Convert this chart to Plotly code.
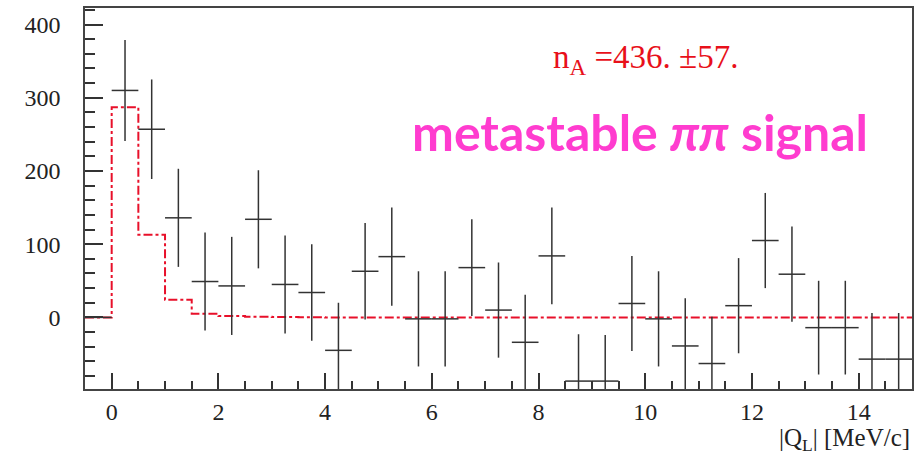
import plotly.graph_objects as go

# Data: bin centers, counts and errors (bin width 0.5 MeV/c)
bin_centers = [0.25, 0.75, 1.25, 1.75, 2.25, 2.75, 3.25, 3.75, 4.25, 4.75,
               5.25, 5.75, 6.25, 6.75, 7.25, 7.75, 8.25, 8.75, 9.25, 9.75,
               10.25, 10.75, 11.25, 11.75, 12.25, 12.75, 13.25, 13.75, 14.25, 14.75]
counts = [310, 257, 136, 49, 43, 134, 45, 34, -45, 63,
          83, -2, -2, 68, 10, -34, 84, -87, -87, 19,
          -2, -39, -63, 16, 105, 59, -14, -14, -57, -57]
errors = [69, 68, 67, 67, 67, 67, 67, 66, 65, 66,
          67, 65, 65, 66, 65, 65, 66, 64, 63, 65,
          65, 65, 64, 65, 65, 65, 64, 64, 63, 63]
half_width = [0.25] * len(bin_centers)

# Fit (signal) histogram, bin edges and heights
fit_edges = [-0.5, 0.0, 0.5, 1.0, 1.5, 2.0, 2.5, 3.0, 3.5, 4.0, 15.0]
fit_vals = [0, 287, 113, 24, 5, 2, 1, 0.5, 0.2, 0, 0]

x_ticks = [0, 2, 4, 6, 8, 10, 12, 14]
y_ticks = [0, 100, 200, 300, 400]

fig = go.Figure()

fig.add_trace(go.Scatter(
    x=fit_edges, y=fit_vals, mode="lines", line_shape="hv",
    line=dict(color="#e8102a", width=2, dash="dashdot"),
    hoverinfo="skip", showlegend=False,
))

fig.add_trace(go.Scatter(
    x=bin_centers, y=counts, mode="markers",
    marker=dict(size=0.1, color="#333333"),
    error_x=dict(type="data", array=half_width, width=0, thickness=1.5, color="#333333"),
    error_y=dict(type="data", array=errors, width=0, thickness=1.5, color="#333333"),
    showlegend=False,
))

# short baseline segment left of zero
fig.add_trace(go.Scatter(
    x=[-0.5, 0.0], y=[0, 0], mode="lines",
    line=dict(color="#333333", width=1.5), showlegend=False, hoverinfo="skip",
))

serif = "Liberation Serif, Times New Roman, serif"

fig.update_xaxes(
    range=[-0.5, 15.0], tickvals=x_ticks, ticks="inside", ticklen=16, tickwidth=1.5,
    tickcolor="#333333", showline=True, linecolor="#444444", linewidth=1.5, mirror=True,
    showgrid=False, zeroline=False,
    tickfont=dict(family=serif, size=24, color="#222222"),
    minor=dict(dtick=0.5, tick0=0, ticks="inside", ticklen=8, tickcolor="#333333", tickwidth=1.5, showgrid=False),
)
fig.update_yaxes(
    range=[-97.8, 422.6], tickvals=y_ticks, ticks="inside", ticklen=18, tickwidth=1.5,
    tickcolor="#333333", showline=True, linecolor="#444444", linewidth=1.5, mirror=True,
    showgrid=False, zeroline=False, ticklabelstandoff=18,
    tickfont=dict(family=serif, size=24, color="#222222"),
    minor=dict(dtick=20, tick0=0, ticks="inside", ticklen=10, tickcolor="#333333", tickwidth=1.5, showgrid=False),
)

fig.add_annotation(
    xref="paper", yref="paper", x=1.0, y=-0.133, xanchor="right", yanchor="middle",
    text="|Q<sub>L</sub>| [MeV/c]", showarrow=False,
    font=dict(family=serif, size=25, color="#222222"),
)
fig.add_annotation(
    xref="x", yref="y", x=10.0, y=352, xanchor="center", yanchor="middle",
    text="n<sub>A</sub> =436. ±57.", showarrow=False,
    font=dict(family=serif, size=33, color="#e8101a"),
)
fig.add_annotation(
    xref="x", yref="y", x=9.9, y=253, xanchor="center", yanchor="middle",
    text="<b>metastable </b><b><i>ππ</i></b><b> signal</b>", showarrow=False,
    font=dict(family="Lato, Open Sans, sans-serif", size=50, color="#ff3ccf"),
)

fig.update_layout(
    width=922, height=459,
    margin=dict(l=85, r=10, t=6, b=70),
    paper_bgcolor="white", plot_bgcolor="white",
)

fig.write_html("out.html", config={"displayModeBar": False},
               post_script="document.body.style.margin='0px';")
